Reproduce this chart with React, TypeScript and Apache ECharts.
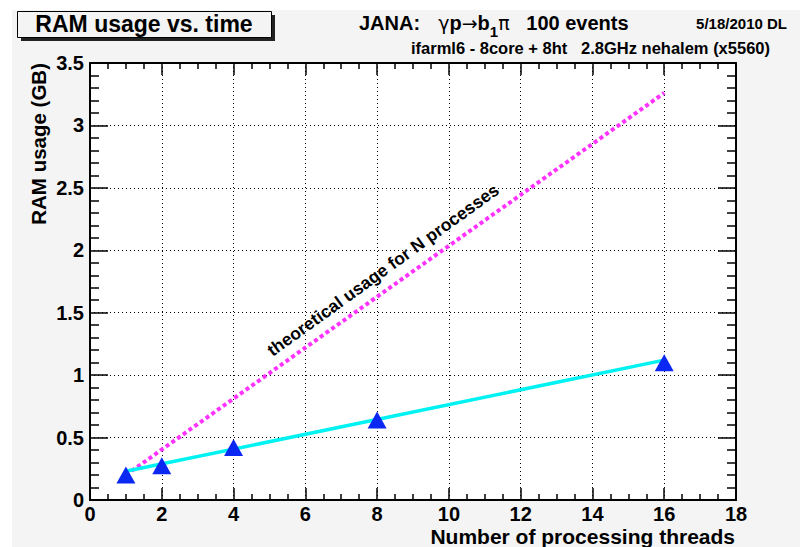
import React, { useEffect, useRef } from "react";
import * as echarts from "echarts";

const threads = [1, 2, 4, 8, 16];
const ramUsage = [0.2, 0.275, 0.42, 0.64, 1.1];
const fitLine = [[1, 0.23], [16, 1.12]];
const theoryLine = [[1, 0.2], [16, 3.26]];
const xTicks = { min: 0, max: 18, interval: 2 };
const yTicks = { min: 0, max: 3.5, interval: 0.5 };

const FONT = "Liberation Sans, Arial, Helvetica, sans-serif";
const SYM = "DejaVu Sans, sans-serif";

export default function App() {
  const ref = useRef<HTMLDivElement>(null);
  useEffect(() => {
    document.body.style.margin = "0";
    const chart = echarts.init(ref.current!, undefined, { renderer: "svg" });
    const axisCommon = {
      type: "value" as const,
      axisLine: { show: true, onZero: false, lineStyle: { color: "#000", width: 2 } },
      splitLine: { show: false },
    };
    const fmt = (v: number) => String(v);
    chart.setOption({
      animation: false,
      backgroundColor: "#ffffff",
      textStyle: { fontFamily: FONT },
      graphic: [
        { type: "rect", silent: true, z: -10, shape: { x: 12, y: 10, width: 800, height: 547 }, style: { fill: "#f4f4f4" } },
        { type: "rect", shape: { x: 21, y: 15, width: 254, height: 26 }, style: { fill: "#222" } },
        { type: "rect", shape: { x: 17.5, y: 11.5, width: 254, height: 26 }, style: { fill: "#f4f4f4", stroke: "#000", lineWidth: 1 } },
        { type: "text", x: 144, y: 24, style: { text: "RAM usage vs. time", font: `bold 23px ${FONT}`, fill: "#000", align: "center", verticalAlign: "middle" } },
        {
          type: "text", x: 359, y: 23,
          style: {
            text: "{a|JANA:}{g|   γ}{a|p}{g|→}{a|b}{s|1}{g|π}{a|   100 events}",
            align: "left", verticalAlign: "middle",
            rich: {
              a: { font: `bold 20px ${FONT}`, fill: "#000" },
              g: { font: `19px ${SYM}`, fill: "#000" },
              s: { font: `bold 15px ${FONT}`, fill: "#000", padding: [17, 0, 0, 0] },
            },
          },
        },
        { type: "text", x: 787, y: 23, style: { text: "5/18/2010 DL", font: `bold 15px ${FONT}`, fill: "#000", align: "right", verticalAlign: "middle" } },
        { type: "text", x: 770, y: 48, style: { text: "ifarml6 - 8core + 8ht   2.8GHz nehalem (x5560)", font: `bold 16.5px ${FONT}`, fill: "#000", align: "right", verticalAlign: "middle" } },
        { type: "text", x: 735, y: 536, style: { text: "Number of processing threads", font: `bold 21px ${FONT}`, fill: "#000", align: "right", verticalAlign: "middle" } },
        { type: "text", x: 38, y: 63, rotation: Math.PI / 2, style: { text: "RAM usage (GB)", font: `bold 20.5px ${FONT}`, fill: "#000", align: "right", verticalAlign: "middle" } },
        { type: "text", x: 383, y: 270, rotation: 0.625, z: 100, style: { text: "theoretical usage for N processes", font: `bold 17.5px ${FONT}`, fill: "#000", align: "center", verticalAlign: "middle" } },
      ],
      grid: { left: 90, right: 64, top: 63, bottom: 47, show: true, backgroundColor: "#fff", borderWidth: 0 },
      xAxis: [
        {
          ...axisCommon, position: "bottom", ...xTicks,
          axisTick: { show: true, inside: true, length: 12, lineStyle: { color: "#000", width: 1.5 } },
          minorTick: { show: true, splitNumber: 4, length: 6, lineStyle: { color: "#000", width: 1.5 } },
          axisLabel: { show: true, formatter: fmt, color: "#000", fontWeight: "bold", fontSize: 20, fontFamily: FONT, margin: 4 },
          splitLine: { show: true, lineStyle: { color: "#000", type: [1, 3], width: 1 } },
        },
        {
          ...axisCommon, position: "top", ...xTicks,
          axisTick: { show: true, inside: true, length: 12, lineStyle: { color: "#000", width: 1.5 } },
          minorTick: { show: true, splitNumber: 4, length: 6, lineStyle: { color: "#000", width: 1.5 } },
          axisLabel: { show: false },
        },
      ],
      yAxis: [
        {
          ...axisCommon, position: "left", ...yTicks,
          axisTick: { show: true, inside: true, length: 18, lineStyle: { color: "#000", width: 1.5 } },
          minorTick: { show: true, splitNumber: 5, length: 9, lineStyle: { color: "#000", width: 1.5 } },
          axisLabel: { show: true, formatter: fmt, color: "#000", fontWeight: "bold", fontSize: 20, fontFamily: FONT, margin: 6 },
          splitLine: { show: true, lineStyle: { color: "#000", type: [1, 3], width: 1 } },
        },
        {
          ...axisCommon, position: "right", ...yTicks,
          axisTick: { show: true, inside: true, length: 18, lineStyle: { color: "#000", width: 1.5 } },
          minorTick: { show: true, splitNumber: 5, length: 9, lineStyle: { color: "#000", width: 1.5 } },
          axisLabel: { show: false },
        },
      ],
      series: [
        {
          type: "line", data: theoryLine, symbol: "none", z: 2,
          lineStyle: { color: "#ff33ff", width: 4, type: [4, 3] },
        },
        {
          type: "line", data: fitLine, symbol: "none", z: 3,
          lineStyle: { color: "#00f2f2", width: 3.5 },
        },
        {
          type: "scatter", z: 4,
          data: threads.map((t, i) => [t, ramUsage[i]]),
          symbol: "triangle", symbolSize: [19, 17],
          itemStyle: { color: "#0a28f2", opacity: 1 },
        },
      ],
    });
    return () => chart.dispose();
  }, []);
  return <div ref={ref} style={{ width: 800, height: 547 }} />;
}
